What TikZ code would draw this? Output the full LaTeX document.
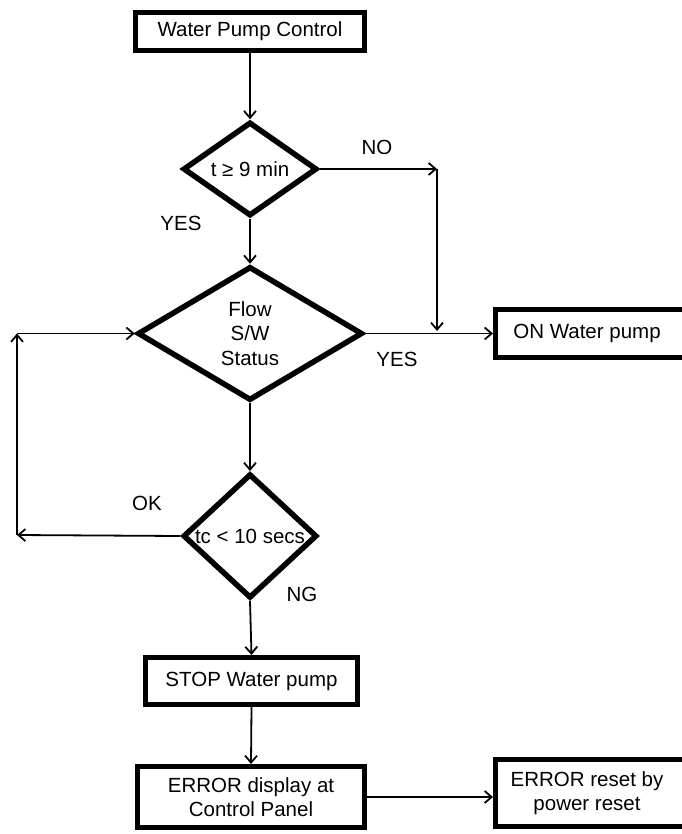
\documentclass[tikz,border=0pt]{standalone}
\usepackage{fontspec}
\setmainfont{Liberation Sans}
\usetikzlibrary{shapes.geometric,arrows.meta}
\begin{document}
\begin{tikzpicture}[x=1pt,y=-1pt,
  txt/.style={font=\fontsize{20.5}{24.5}\selectfont},
  box/.style={txt, draw, line width=5pt, rectangle, inner sep=0pt, align=center},
  dia/.style={txt, draw, line width=5.5pt, diamond, inner sep=0pt, align=center},
  conn/.style={line width=1.8pt, -{Straight Barb[length=7pt,width=12pt]}}]
\useasboundingbox (0,0) rectangle (681,834);
% boxes
\node[box, minimum width=229pt, minimum height=38pt] (start) at (250,31.5) {Water Pump Control};
\node[box, minimum width=195pt, minimum height=48pt] (on) at (593,333.5) {\hspace*{-12pt}ON Water pump};
\node[box, minimum width=212pt, minimum height=47pt] (stop) at (251.5,681) {STOP Water pump};
\node[box, minimum width=227pt, minimum height=61pt] (disp) at (251,797) {ERROR display at\\Control Panel};
\node[box, minimum width=195pt, minimum height=67pt] (reset) at (593,793) {\hspace*{-12pt}ERROR reset by\\\hspace*{-12pt}power reset};
% diamonds
\node[dia, minimum width=134pt, minimum height=94pt] (d1) at (250,169) {t ≥ 9 min};
\node[dia, minimum width=225pt, minimum height=134pt] (d2) at (250,333.5) {Flow\\S/W\\Status};
\node[dia, minimum width=134pt, minimum height=94pt] (d3) at (250,536) {tc < 10 secs};
% helper coordinates
\coordinate (c1) at (437,169);
\coordinate (c2) at (437,331);
\coordinate (c3) at (17,535);
\coordinate (c4) at (17,333.5);
% connectors
\draw[conn] (start.south) -- (d1.north);
\draw[conn] (d1.east) -- (c1);
\draw[conn] (c1) -- (c2);
\draw[conn] (d1.south) -- (d2.north);
\draw[conn] (d2.east) -- (on.west);
\draw[conn] (d2.south) -- (d3.north);
\draw[conn] (d3.west) -- (c3);
\draw[conn] (c3) -- (c4);
\draw[conn] (c4) -- (d2.west);
\draw[conn] (d3.south) -- (stop.north);
\draw[conn] (stop.south) -- (disp.north);
\draw[conn] (disp.east) -- (disp.east -| reset.west);
% labels
\node[txt] (lno) at (377,147) {NO};
\node[txt] (lyes1) at (181,223) {YES};
\node[txt] (lyes2) at (397,359) {YES};
\node[txt] (lok) at (147,503) {OK};
\node[txt] (lng) at (302,594) {NG};
\end{tikzpicture}
\end{document}
